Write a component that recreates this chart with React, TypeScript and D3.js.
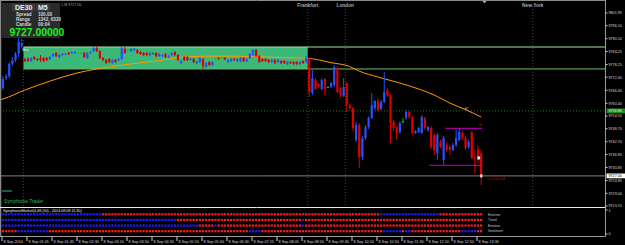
import React from 'react';
import * as d3 from 'd3';

// ---- Candle data (DE30, M5, 8 Sep 2014) ----
const opens = [9767.4,9772.0,9772.9,9778.5,9780.3,9783.1,9786.7,9780.8,9780.8,9779.8,9781.7,9780.8,9781.2,9781.2,9781.2,9780.8,9782.1,9783.5,9781.7,9782.6,9782.9,9783.5,9783.5,9783.5,9783.7,9783.7,9783.5,9781.2,9783.5,9784.4,9785.8,9784.4,9781.2,9780.3,9780.8,9778.9,9780.3,9780.3,9780.8,9785.4,9784.7,9784.4,9784.9,9784.9,9784.0,9783.5,9783.5,9782.6,9783.5,9783.5,9782.1,9782.1,9783.1,9781.7,9782.6,9784.0,9782.6,9778.9,9781.7,9781.7,9780.3,9780.8,9778.9,9779.4,9780.8,9777.1,9779.4,9778.0,9781.0,9781.2,9781.5,9781.2,9779.4,9779.8,9780.8,9779.8,9779.8,9781.2,9779.8,9781.2,9782.6,9784.9,9782.1,9780.8,9780.8,9780.3,9779.4,9780.3,9779.4,9779.8,9779.8,9778.5,9779.4,9779.4,9779.4,9778.5,9779.8,9779.4,9781.2,9765.1,9771.1,9769.3,9767.0,9771.6,9767.9,9767.9,9768.8,9776.6,9767.4,9763.7,9769.7,9759.6,9758.2,9743.5,9750.4,9735.7,9744.4,9749.5,9753.6,9758.2,9761.4,9757.8,9761.0,9766.5,9764.2,9751.8,9749.5,9747.2,9752.2,9753.6,9756.4,9754.1,9746.7,9747.2,9746.7,9753.6,9748.1,9749.0,9745.8,9737.5,9742.6,9734.3,9741.2,9740.3,9738.9,9741.2,9743.5,9746.7,9744.4,9740.3,9747.2,9735.7,9738.9,9737.5];
const highs = [9772.9,9773.9,9779.4,9781.7,9784.0,9790.4,9790.0,9781.2,9781.7,9781.7,9782.1,9781.2,9782.6,9781.7,9781.7,9782.1,9783.5,9784.0,9783.1,9783.5,9783.5,9784.0,9784.4,9784.4,9784.0,9784.0,9784.0,9784.0,9784.4,9786.3,9786.7,9784.9,9781.7,9780.8,9781.2,9780.8,9780.8,9781.2,9786.3,9786.3,9785.4,9785.8,9785.8,9785.4,9784.4,9784.0,9784.0,9784.0,9783.7,9784.0,9783.5,9783.1,9783.5,9782.6,9784.0,9784.4,9783.1,9780.3,9782.1,9782.1,9781.2,9781.2,9779.8,9781.7,9781.2,9779.4,9779.8,9779.8,9781.2,9781.7,9781.7,9781.7,9780.8,9781.2,9781.2,9781.2,9781.7,9781.7,9781.2,9783.5,9785.4,9785.4,9782.6,9781.2,9781.2,9780.8,9780.8,9780.8,9780.8,9780.3,9780.3,9779.8,9779.8,9779.8,9779.8,9779.8,9780.3,9782.1,9781.7,9775.7,9772.0,9769.7,9772.0,9772.0,9768.3,9770.2,9778.0,9777.5,9767.9,9772.0,9770.2,9760.1,9758.7,9751.8,9751.3,9745.3,9750.4,9754.5,9765.1,9761.9,9762.4,9761.9,9774.8,9767.4,9764.7,9752.7,9749.9,9752.2,9753.6,9757.3,9756.8,9754.5,9748.1,9749.5,9755.0,9754.1,9749.9,9749.9,9746.3,9746.7,9743.5,9745.3,9742.6,9741.2,9742.1,9748.1,9749.0,9747.6,9745.3,9743.5,9747.6,9738.9,9741.2,9738.9];
const lows = [9766.5,9771.1,9772.0,9777.5,9779.4,9781.7,9785.8,9779.4,9779.4,9779.4,9780.3,9779.8,9779.4,9779.4,9779.8,9780.3,9781.7,9781.7,9781.2,9782.1,9782.6,9782.6,9783.1,9783.1,9783.5,9783.3,9781.2,9780.8,9783.1,9784.0,9784.0,9780.8,9779.8,9778.5,9778.9,9778.5,9778.9,9779.8,9780.3,9783.1,9784.4,9784.0,9784.4,9783.1,9782.6,9782.1,9782.1,9782.1,9782.9,9781.7,9781.7,9781.7,9781.2,9781.2,9782.1,9782.1,9779.8,9778.5,9779.8,9779.8,9780.1,9778.9,9778.5,9778.9,9776.2,9776.6,9777.5,9777.5,9780.5,9780.3,9781.2,9780.3,9778.9,9779.4,9779.8,9779.4,9779.4,9779.4,9779.4,9780.8,9782.1,9781.7,9778.9,9779.4,9779.4,9778.9,9778.9,9778.5,9778.9,9778.5,9778.5,9778.0,9778.5,9778.0,9778.0,9778.0,9778.5,9778.9,9763.3,9764.2,9766.5,9767.4,9766.5,9764.2,9767.4,9767.4,9767.9,9765.1,9763.3,9763.3,9756.4,9757.3,9747.6,9742.6,9730.6,9734.3,9743.5,9748.6,9753.2,9757.3,9756.8,9757.3,9760.5,9763.3,9742.1,9747.6,9743.5,9746.3,9751.3,9752.7,9753.2,9745.8,9746.3,9746.7,9746.3,9748.1,9747.2,9739.4,9736.6,9734.3,9739.8,9732.0,9738.0,9736.6,9738.4,9740.3,9743.0,9743.5,9738.9,9739.4,9734.8,9728.3,9732.9,9722.8];
const closes = [9771.6,9772.9,9778.5,9780.3,9783.1,9788.6,9788.1,9779.8,9779.8,9781.2,9780.8,9780.3,9780.3,9779.8,9780.3,9781.7,9783.1,9782.1,9782.6,9783.1,9783.3,9783.1,9784.0,9784.0,9783.7,9783.7,9781.7,9783.5,9784.0,9785.8,9784.4,9781.2,9780.3,9778.9,9779.4,9780.3,9779.4,9780.8,9785.8,9783.5,9784.7,9785.4,9785.4,9783.5,9783.1,9782.6,9782.6,9783.5,9783.1,9782.1,9783.1,9782.6,9781.7,9782.1,9783.5,9782.6,9780.3,9779.8,9780.3,9780.3,9780.8,9779.4,9779.8,9781.2,9777.5,9778.9,9778.0,9779.4,9781.0,9780.8,9781.5,9780.5,9780.3,9780.8,9780.3,9780.8,9781.2,9779.8,9780.8,9783.1,9784.9,9782.1,9779.4,9779.8,9779.8,9779.4,9780.3,9778.9,9780.3,9778.9,9778.9,9779.4,9778.9,9778.5,9778.5,9779.4,9778.9,9781.2,9765.6,9772.0,9767.0,9768.3,9771.1,9767.0,9767.9,9769.7,9777.1,9765.6,9764.2,9767.9,9759.6,9758.2,9749.0,9750.4,9735.7,9744.4,9749.5,9753.6,9759.6,9761.4,9757.3,9761.0,9765.6,9764.2,9751.3,9749.0,9746.7,9751.3,9752.2,9756.4,9754.1,9746.7,9747.6,9749.0,9754.1,9749.0,9749.5,9740.3,9738.9,9745.8,9740.3,9744.4,9738.9,9738.9,9741.2,9744.4,9747.2,9744.4,9739.8,9742.6,9735.2,9735.0,9734.3,9727.0];

// ---- Moving average (bar index / value) ----
const maIndex = [-1,0,7,15,23,30,41,50,60,70,80,90,97,105,111,114,120,127,133,138,143,148,153];
const maValues = [9762.0,9762.4,9766.5,9770.6,9774.1,9776.2,9778.5,9780.1,9781.9,9782.1,9781.9,9781.4,9781.2,9779.1,9777.3,9775.2,9772.5,9769.7,9767.0,9764.2,9760.5,9757.5,9754.1];

// ---- Range box & levels ----
const boxBars = [7, 98];
const boxPrices = [9776.2, 9786.3];
const currentPrice = 9727.0;
const greenLevel = 9756.9;
const magentaUpper = { price: 9748.9, from: 142, to: 153 };
const magentaLower = { price: 9731.9, from: 137, to: 153 };

// ---- Sessions ----
const sessionNames = ['Frankfurt', 'London', 'New York'];
const sessionBars = [98, 110, 170];
const daySeparatorBar = 7;

// ---- Axes ----
const priceTicks = [9801.95,9796.10,9790.10,9784.25,9778.25,9772.40,9766.40,9760.40,9754.55,9748.70,9742.70,9736.85,9730.85,9724.85,9719.00,9713.15];
const timeLabels = ['8 Sep 2014','8 Sep 01:05','8 Sep 01:45','8 Sep 02:30','8 Sep 03:10','8 Sep 03:50','8 Sep 04:30','8 Sep 05:10','8 Sep 05:50','8 Sep 06:30','8 Sep 07:15','8 Sep 08:05','8 Sep 08:50','8 Sep 09:30','8 Sep 10:10','8 Sep 10:50','8 Sep 11:30','8 Sep 12:10','8 Sep 12:50','8 Sep 13:30'];
const timeLabelBars = [0,8,16,24,32,40,48,56,64,72,80,88,96,104,112,120,128,136,144,152];

// ---- Indicator (1 = blue, 0 = red), run-length [state, count] ----
const indicatorRows = ['Extreme', 'Trend', 'Emotion', 'Sentiment'];
const extremeRuns = [[1,32],[0,89],[1,19],[0,14]];
const trendRuns = [[1,56],[0,40],[1,1],[0,57]];
const emotionRuns = [[1,63],[0,5],[1,1],[0,27],[1,1],[0,57]];
const sentimentRuns = [[0,5],[1,10],[0,64],[1,4],[0,39],[1,6],[0,1],[1,2],[0,16],[1,5],[0,2]];

const W = 625, H = 245;
const RIGHT = 605.5;
const MAIN_BOTTOM = 207.5;
const IND_BOTTOM = 236.5;
const FONT = 'Liberation Sans, Arial, sans-serif';

const BULL = '#2352ff';
const BEAR = '#dc0000';
const DOJI = '#00d000';

function expand(runs: number[][]) {
  const out: number[] = [];
  runs.forEach(([s, n]) => { for (let k = 0; k < n; k++) out.push(s); });
  return out;
}

export default function App() {
  const x = d3.scaleLinear().domain([0, 192]).range([3, 603]);
  const y = d3.scaleLinear().domain([9713.15, 9801.95]).range([206, 13]);
  const rowY = d3.scalePoint<string>().domain(indicatorRows).range([214.3, 231.2]);
  const maLine = d3.line<number>()
    .x((_, k) => x(maIndex[k]))
    .y((v) => y(v))
    .curve(d3.curveMonotoneX);
  const rows = [extremeRuns, trendRuns, emotionRuns, sentimentRuns].map(expand);
  const bx0 = x(boxBars[0]) - 1.5;
  const bx1 = x(boxBars[1]) - 1.5;

  return (
    <svg width={W} height={H} style={{ position: 'absolute', left: 0, top: 0, display: 'block' }}>
      <defs>
        <clipPath id="mainClip"><rect x={1} y={1} width={RIGHT - 1} height={MAIN_BOTTOM - 1} /></clipPath>
      </defs>
      <rect x={0} y={0} width={W} height={H} fill="#000" />
      <g clipPath="url(#mainClip)">
        {/* range box */}
        <rect x={bx0} y={y(boxPrices[1])} width={bx1 - bx0} height={y(boxPrices[0]) - y(boxPrices[1])} fill="#3cb878" />
        <line x1={bx0} x2={RIGHT} y1={y(boxPrices[1])} y2={y(boxPrices[1])} stroke="#9be79b" strokeWidth={1} />
        <line x1={bx0} x2={RIGHT} y1={y(boxPrices[0])} y2={y(boxPrices[0])} stroke="#6cc06c" strokeWidth={1} />
        {/* separators */}
        <line x1={x(daySeparatorBar) - 1.5} x2={x(daySeparatorBar) - 1.5} y1={1} y2={MAIN_BOTTOM} stroke="#4a4a24" strokeDasharray="1 2" />
        {sessionBars.map((b, k) => (
          <line key={k} x1={x(b) - 1.5} x2={x(b) - 1.5} y1={6} y2={MAIN_BOTTOM} stroke="#4a4a24" strokeDasharray="1 2" />
        ))}
        <line x1={0} x2={RIGHT} y1={y(greenLevel)} y2={y(greenLevel)} stroke="#1f7a1f" strokeDasharray="1 2" />
        <line x1={0} x2={RIGHT} y1={y(currentPrice)} y2={y(currentPrice)} stroke="#808080" strokeWidth={1} />
        {/* MA */}
        <path d={maLine(maValues) || ''} fill="none" stroke="#ff9a00" strokeWidth={1} />
        {/* candles */}
        {closes.map((c, i) => {
          const o = opens[i];
          const col = c > o ? BULL : c < o ? BEAR : DOJI;
          const cx = x(i);
          const top = y(Math.max(o, c));
          const h = Math.max(1, Math.abs(y(o) - y(c)));
          return (
            <g key={i}>
              <line x1={cx} x2={cx} y1={y(highs[i])} y2={y(lows[i])} stroke={col} strokeWidth={1} />
              <rect x={cx - 1.1} y={top} width={2.2} height={h} fill={col} />
            </g>
          );
        })}
        {/* magenta levels */}
        <line x1={x(magentaUpper.from) - 1.5} x2={x(magentaUpper.to) + 1} y1={y(magentaUpper.price)} y2={y(magentaUpper.price)} stroke="#c400c4" strokeWidth={1} />
        <line x1={x(magentaLower.from) - 1.5} x2={x(magentaLower.to) + 1} y1={y(magentaLower.price)} y2={y(magentaLower.price)} stroke="#c400c4" strokeWidth={1} />
        <line x1={x(153) - 2} x2={x(153) + 1} y1={y(9750.5)} y2={y(9750.5)} stroke="#c00000" strokeWidth={1} />
        <text x={x(148) - 1} y={y(9757.3)} fontSize={3.5} fill="#a0a0a0" fontFamily={FONT}>AT</text>
        <rect x={x(152) - 0.5} y={y(9736.0)} width={2.5} height={3} fill="#fff" stroke="#888" strokeWidth={0.4} />
        <rect x={x(153) - 0.8} y={y(currentPrice) - 1.5} width={2} height={3} fill="#fff" />
        <text x={487} y={y(currentPrice) + 4.5} fontSize={4.2} fill="#d00000" fontFamily={FONT}>{'<<<00:04'}</text>
        <text x={bx0 - 1} y={y(9784.3)} fontSize={3.5} fill="#e8e8e8" fontFamily={FONT}>Box</text>
        {/* bottom-left label */}
        <line x1={2} x2={12} y1={191} y2={191} stroke="#3cb371" strokeWidth={1} />
        <text x={4} y={203} fontSize={4.8} fill="#2fbf5f" fontFamily={FONT}>Symphonie Trader</text>
      </g>

      {/* session labels */}
      {sessionNames.map((n, k) => (
        <text key={n} x={x(sessionBars[k]) - 1.5} y={7} fontSize={4.8} fontWeight="bold" textAnchor="middle" fill="#a8a8a8" fontFamily={FONT}>{n}</text>
      ))}
      <path d="M482.5,1 L486.5,1 L484.5,3.5 Z" fill="#b0b0b0" />

      {/* info panel */}
      <rect x={2} y={3} width={58} height={35} fill="#2a2a2a" />
      <rect x={12} y={3.5} width={23} height={8} fill="#3a3a3a" />
      <rect x={36} y={3.5} width={14} height={8} fill="#3a3a3a" />
      <text x={15} y={10.3} fontSize={7} fontWeight="bold" fill="#f0f0f0" fontFamily={FONT}>DE30</text>
      <text x={38} y={10.3} fontSize={7} fontWeight="bold" fill="#f0f0f0" fontFamily={FONT}>M5</text>
      <text x={16} y={15.5} fontSize={4.6} fontWeight="bold" fill="#d8d8d8" fontFamily={FONT}>Spread</text>
      <text x={38} y={15.5} fontSize={4.6} fontWeight="bold" fill="#d8d8d8" fontFamily={FONT}>100.00</text>
      <text x={16} y={20.8} fontSize={4.6} fontWeight="bold" fill="#d8d8d8" fontFamily={FONT}>Range</text>
      <text x={38} y={20.8} fontSize={4.6} fontWeight="bold" fill="#d8d8d8" fontFamily={FONT}>1342, 6320</text>
      <text x={16} y={26.2} fontSize={4.6} fontWeight="bold" fill="#d8d8d8" fontFamily={FONT}>Candle</text>
      <text x={38} y={26.2} fontSize={4.6} fontWeight="bold" fill="#d8d8d8" fontFamily={FONT}>00:04</text>
      <text x={9.5} y={36.3} fontSize={10.4} fontWeight="bold" fill="#1df01d" fontFamily={FONT}>9727.00000</text>
      <text x={61} y={6} fontSize={3.6} fill="#a0a0a0" fontFamily={FONT}>1-M 9727.00</text>

      {/* borders */}
      <line x1={0} x2={RIGHT} y1={0.5} y2={0.5} stroke="#8a8a8a" />
      <line x1={0.5} x2={0.5} y1={0} y2={IND_BOTTOM} stroke="#8a8a8a" strokeWidth={1.5} />
      <line x1={RIGHT} x2={RIGHT} y1={0} y2={IND_BOTTOM} stroke="#9a9a9a" />
      <line x1={0} x2={RIGHT} y1={MAIN_BOTTOM} y2={MAIN_BOTTOM} stroke="#e8e8e8" />
      <line x1={0} x2={RIGHT} y1={IND_BOTTOM} y2={IND_BOTTOM} stroke="#9a9a9a" />

      {/* price axis */}
      {priceTicks.map((v) => (
        <g key={v}>
          <line x1={RIGHT} x2={RIGHT + 2} y1={y(v)} y2={y(v)} stroke="#d0d0d0" />
          <text x={608.5} y={y(v) + 1.3} fontSize={3.7} fill="#d8d8d8" fontFamily={FONT}>{v.toFixed(2)}</text>
        </g>
      ))}
      <rect x={606.5} y={y(greenLevel) - 2.4} width={18.5} height={4.8} fill="#1f8a1f" />
      <text x={608.5} y={y(greenLevel) + 1.3} fontSize={3.7} fill="#e0ffe0" fontFamily={FONT}>{greenLevel.toFixed(2)}</text>
      <rect x={606.5} y={y(currentPrice) - 2.4} width={18.5} height={4.8} fill="#ffffff" />
      <text x={608.5} y={y(currentPrice) + 1.3} fontSize={3.7} fill="#000" fontFamily={FONT}>{currentPrice.toFixed(2)}</text>

      {/* indicator window */}
      <text x={3} y={212.3} fontSize={3.7} fill="#e8e8e8" fontFamily={FONT}>SymphonieMarket(4,49,(50) - 2014.09.08 11:30)</text>
      {rows.map((r, ri) => (
        <g key={ri}>
          {r.map((s, i) => (
            <rect key={i} x={x(i) - 1.1} y={(rowY(indicatorRows[ri]) as number) - 1.1} width={2.2} height={2.2} fill={s ? '#1c1cff' : '#ff1c1c'} />
          ))}
          <text x={488} y={(rowY(indicatorRows[ri]) as number) + 1.2} fontSize={3.3} fill="#c8c8c8" fontFamily={FONT}>{indicatorRows[ri]}</text>
        </g>
      ))}
      <line x1={RIGHT} x2={RIGHT + 2} y1={210} y2={210} stroke="#d0d0d0" />
      <text x={608.5} y={211.6} fontSize={3.7} fill="#d8d8d8" fontFamily={FONT}>1</text>
      <line x1={RIGHT} x2={RIGHT + 2} y1={234} y2={234} stroke="#d0d0d0" />
      <text x={608.5} y={235.4} fontSize={3.7} fill="#d8d8d8" fontFamily={FONT}>0</text>

      {/* time axis */}
      {timeLabels.map((t, k) => {
        const tx = x(timeLabelBars[k]) - 1;
        return (
          <g key={t}>
            <line x1={tx} x2={tx} y1={IND_BOTTOM} y2={241} stroke="#d0d0d0" />
            <text x={tx + 1.5} y={242.6} fontSize={3.8} fill="#d8d8d8" fontFamily={FONT}>{t}</text>
          </g>
        );
      })}
    </svg>
  );
}
